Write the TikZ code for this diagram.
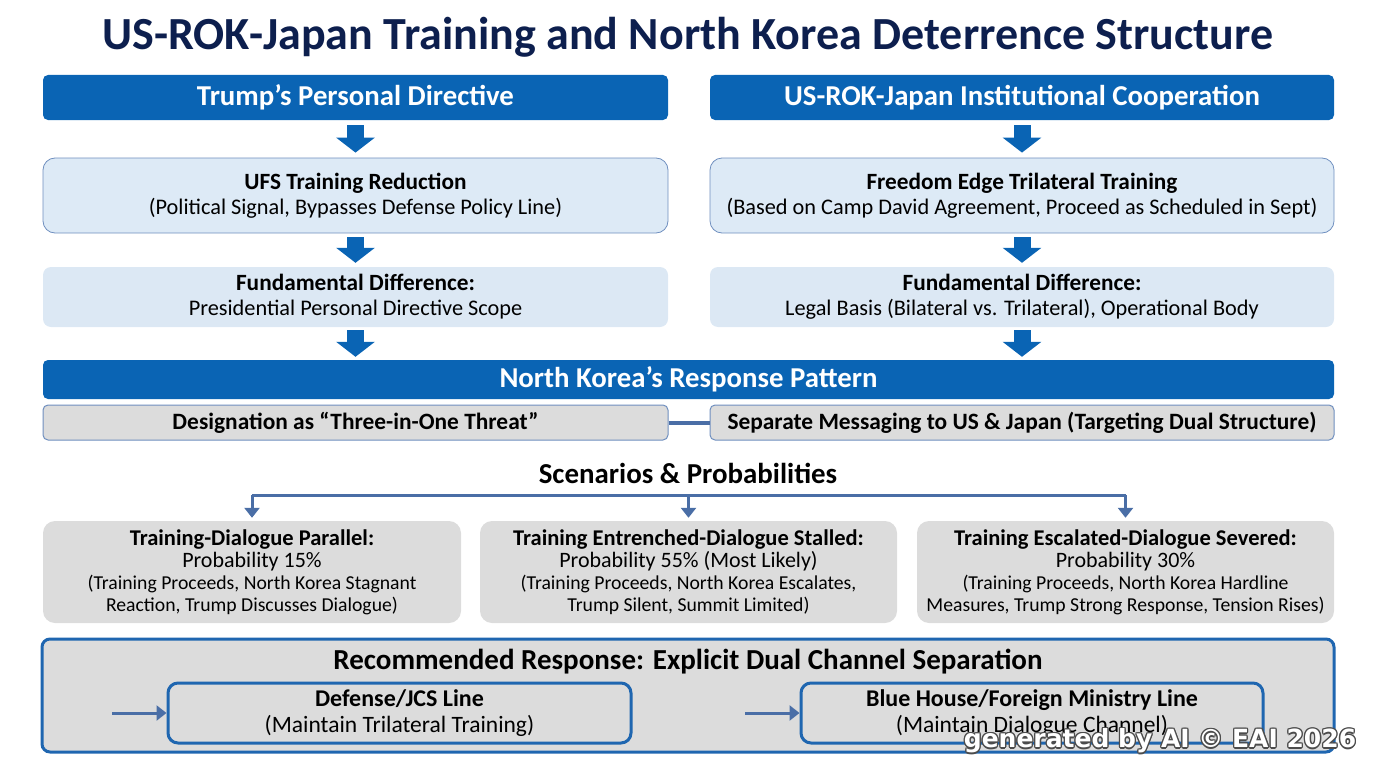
\documentclass[tikz,border=0pt]{standalone}
\usepackage{fontspec}
\setmainfont{Carlito}
\newfontfamily\markfont{DejaVu Sans}
\usetikzlibrary{arrows.meta,positioning}
\definecolor{hdrblue}{HTML}{0A64B4}
\definecolor{navy}{HTML}{0D1F4E}
\definecolor{paleblue}{HTML}{DDEAF6}
\definecolor{paleblue2}{HTML}{DCE8F4}
\definecolor{edgeblue}{HTML}{6F8FBF}
\definecolor{steel}{HTML}{4A6EA6}
\definecolor{boxgray}{HTML}{DCDCDC}
\definecolor{frameblue}{HTML}{1F66B0}
\newcommand{\hd}[1]{{\fontsize{23.3}{25}\selectfont\bfseries #1}}
\begin{document}
\begin{tikzpicture}[x=1pt, y=-1pt,
  every node/.style={align=center, inner sep=0pt},
  header/.style={fill=hdrblue, rounded corners=5pt, text=white, minimum height=45pt,
    font=\fontsize{28.8}{32}\selectfont\bfseries},
  stepbox/.style={fill=paleblue, draw=edgeblue, line width=0.8pt, rounded corners=12pt,
    minimum width=625pt, minimum height=75pt, font=\fontsize{22.3}{25}\selectfont},
  diffbox/.style={fill=paleblue2, rounded corners=8pt, minimum width=625pt,
    minimum height=60pt, font=\fontsize{22.3}{25}\selectfont},
  greybox/.style={fill=boxgray, draw=edgeblue, line width=1pt, rounded corners=5pt,
    minimum width=625pt, minimum height=35pt, font=\fontsize{23.4}{26}\selectfont\bfseries},
  scenbox/.style={fill=boxgray, rounded corners=12pt, minimum width=418pt,
    minimum height=102pt, font=\fontsize{19.7}{22}\selectfont},
  linebox/.style={fill=boxgray, draw=frameblue, line width=3pt, rounded corners=10pt,
    minimum width=463pt, minimum height=60pt, font=\fontsize{23.5}{26}\selectfont},
  blockarrow/.style={draw=hdrblue, line width=17pt, -{Triangle[length=15pt, width=38pt]}},
  link/.style={draw=steel, line width=3pt},
  linkarrow/.style={link, -{Triangle[length=10pt, width=15pt]}}]
\useasboundingbox (0,0) rectangle (1376,768);

% title
\node (title) at (688,37) [font=\fontsize{46}{50}\selectfont\bfseries, text=navy]
  {US-ROK-Japan Training and North Korea Deterrence Structure};

% two columns
\node (trump) at (355.5,97.5) [header, minimum width=625pt] {Trump’s Personal Directive};
\node (inst) at (1022,97.5) [header, minimum width=624pt] {US-ROK-Japan Institutional Cooperation};
\node (ufs) at (355.5,195.5) [stepbox] {\hd{UFS Training Reduction}\\(Political Signal, Bypasses Defense Policy Line)};
\node (fedge) at (1022,195.5) [stepbox, minimum width=624pt] {\hd{Freedom Edge Trilateral Training}\\(Based on Camp David Agreement, Proceed as Scheduled in Sept)};
\node (diffL) at (355.5,297) [diffbox] {\hd{Fundamental Difference:}\\Presidential Personal Directive Scope};
\node (diffR) at (1022,297) [diffbox, minimum width=624pt] {\hd{Fundamental Difference:}\\Legal Basis (Bilateral vs. Trilateral), Operational Body};

% north korea
\node (nkhdr) at (688.5,379.5) [header, minimum width=1291pt, minimum height=39pt] {North Korea’s Response Pattern};
\node (threat) at (355.5,422.5) [greybox] {Designation as “Three-in-One Threat”};
\node (messaging) at (1022,422.5) [greybox, minimum width=624pt] {Separate Messaging to US \& Japan (Targeting Dual Structure)};

\draw[blockarrow, shorten <=5pt, shorten >=5pt] (trump) -- (ufs);
\draw[blockarrow, shorten <=5pt, shorten >=5pt] (inst) -- (fedge);
\draw[blockarrow, shorten <=4pt, shorten >=4pt] (ufs) -- (diffL);
\draw[blockarrow, shorten <=4pt, shorten >=4pt] (fedge) -- (diffR);
\draw[blockarrow, shorten <=3pt, shorten >=3pt] (diffL) -- (diffL |- nkhdr.north);
\draw[blockarrow, shorten <=3pt, shorten >=3pt] (diffR) -- (diffR |- nkhdr.north);
\draw[link, line width=4pt] (threat) -- (messaging);

% scenarios
\node (scen) at (688,473) [font=\fontsize{28.9}{32}\selectfont\bfseries] {Scenarios \& Probabilities};
\node (parallel) at (252,572) [scenbox] {{\fontsize{22.5}{25}\selectfont\bfseries Training-Dialogue Parallel:}\\{\fontsize{22}{24}\selectfont Probability 15\%}\\(Training Proceeds, North Korea Stagnant\\Reaction, Trump Discusses Dialogue)};
\node (stalled) at (688.5,572) [scenbox, minimum width=417pt] {{\fontsize{22.5}{25}\selectfont\bfseries Training Entrenched-Dialogue Stalled:}\\{\fontsize{22}{24}\selectfont Probability 55\% (Most Likely)}\\(Training Proceeds, North Korea Escalates,\\Trump Silent, Summit Limited)};
\node (severed) at (1125.5,572) [scenbox, minimum width=417pt] {{\fontsize{22.5}{25}\selectfont\bfseries Training Escalated-Dialogue Severed:}\\{\fontsize{22}{24}\selectfont Probability 30\%}\\(Training Proceeds, North Korea Hardline\\Measures, Trump Strong Response, Tension Rises)};
\coordinate (fork) at (688,495);
\draw[link] (parallel.north |- fork) -- (severed.north |- fork);
\foreach \s in {parallel,stalled,severed}
  \draw[linkarrow, shorten >=3pt] (\s.north |- fork) -- (\s.north);

% recommended response
\node (recbox) at (688,695.5) [fill=boxgray, draw=frameblue, line width=3pt, rounded corners=8pt,
  minimum width=1292pt, minimum height=113pt] {};
\node (rectitle) at (688,662) [font=\fontsize{29}{32}\selectfont\bfseries] {Recommended Response: Explicit Dual Channel Separation};
\node (defense) at (399.5,713) [linebox] {{\fontsize{24}{26}\selectfont\bfseries Defense/JCS Line}\\(Maintain Trilateral Training)};
\node (bluehouse) at (1032,713) [linebox, minimum width=462pt] {{\fontsize{24}{26}\selectfont\bfseries Blue House/Foreign Ministry Line}\\(Maintain Dialogue Channel)};
\coordinate (inA) at (112,713);
\coordinate (inB) at (745,713);
\draw[linkarrow] (inA) -- (defense.west);
\draw[linkarrow] (inB) -- (bluehouse.west);

% watermark
\foreach \dx/\dy in {-1.3/0,1.3/0,0/-1.3,0/1.3,-1/-1,1/1,-1/1,1/-1}
  \node at ([xshift=\dx pt, yshift=\dy pt]1160,741) [font=\markfont\fontsize{25}{28}\selectfont\bfseries, text=black!70] {generated by AI © EAI 2026};
\node (mark) at (1160,741) [font=\markfont\fontsize{25}{28}\selectfont\bfseries, text=white] {generated by AI © EAI 2026};
\end{tikzpicture}
\end{document}
